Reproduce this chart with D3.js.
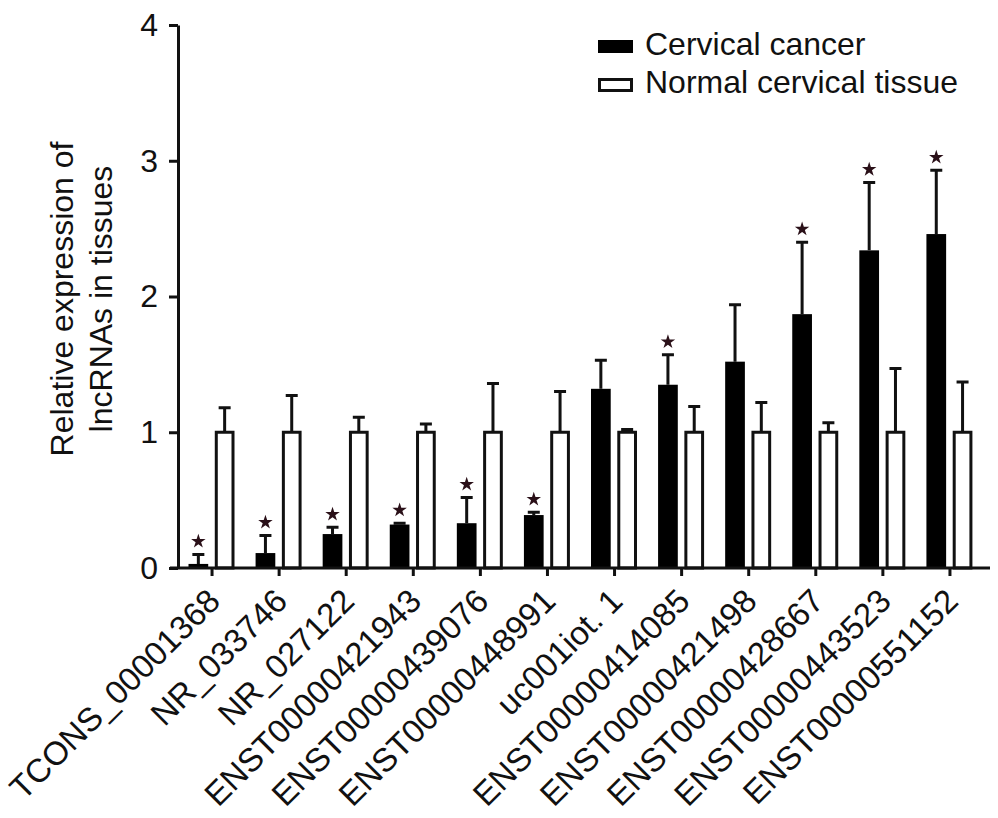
<!DOCTYPE html>
<html>
<head>
<meta charset="utf-8">
<script src="https://cdn.jsdelivr.net/npm/d3@7"></script>
<style>
  html, body { margin: 0; padding: 0; background: #fff; }
  svg text { font-family: "Liberation Sans", Arial, sans-serif; fill: #111; }
</style>
</head>
<body>
<div id="chart"></div>
<script>
// --- DATA ---
const categories = ["TCONS_00001368", "NR_033746", "NR_027122", "ENST00000421943",
    "ENST00000439076", "ENST00000448991", "uc001iot. 1", "ENST00000414085",
    "ENST00000421498", "ENST00000428667", "ENST00000443523", "ENST00000551152"];
const series = ["Cervical cancer", "Normal cervical tissue"];
const cancerMean = [0.03, 0.11, 0.25, 0.32, 0.33, 0.39, 1.32, 1.35, 1.52, 1.87, 2.34, 2.46];
const cancerSD   = [0.07, 0.13, 0.05, 0.01, 0.19, 0.02, 0.21, 0.22, 0.42, 0.53, 0.50, 0.47];
const normalMean = [1, 1, 1, 1, 1, 1, 1, 1, 1, 1, 1, 1];
const normalSD   = [0.18, 0.27, 0.11, 0.06, 0.36, 0.30, 0.02, 0.19, 0.22, 0.07, 0.47, 0.37];
const significant = [true, true, true, true, true, true, false, true, false, true, true, true];
const yTicks = [0, 1, 2, 3, 4];

// --- SETUP ---
const width = 998, height = 818;
const svg = d3.select("#chart").append("svg")
    .attr("width", width)
    .attr("height", height);

const x0 = d3.scaleBand()
    .domain(categories)
    .range([178.5, 983.5]);

const x1 = d3.scaleBand()
    .domain(["cancer", "normal"])
    .range([10, 56])
    .paddingInner(0.25);

const y = d3.scaleLinear()
    .domain([0, 4])
    .range([568, 25]);

// build rows from the arrays
const rows = categories.map((c, i) => ({
    name: c,
    sig: significant[i],
    bars: [
        { key: "cancer", mean: cancerMean[i], sd: cancerSD[i] },
        { key: "normal", mean: normalMean[i], sd: normalSD[i] }
    ]
}));

// --- BARS ---
const groups = svg.append("g").selectAll("g")
    .data(rows)
    .enter().append("g")
    .attr("transform", d => `translate(${x0(d.name)},0)`);

// error bars (upper half only)
groups.selectAll(".err")
    .data(d => d.bars)
    .enter().append("path")
    .attr("class", "err")
    .attr("fill", "none")
    .attr("stroke", "#111")
    .attr("stroke-width", 3)
    .attr("d", d => {
        const cx = x1(d.key) + x1.bandwidth() / 2;
        const top = y(d.mean + d.sd);
        return `M${cx},${y(d.mean)}V${top}M${cx - 6},${top}H${cx + 6}`;
    });

groups.selectAll(".bar")
    .data(d => d.bars)
    .enter().append("rect")
    .attr("class", "bar")
    .attr("x", d => d.key === "cancer" ? x1(d.key) : x1(d.key) + 1.5)
    .attr("width", d => d.key === "cancer" ? x1.bandwidth() : x1.bandwidth() - 3)
    .attr("y", d => y(d.mean))
    .attr("height", d => y(0) - y(d.mean))
    .attr("fill", d => d.key === "cancer" ? "#000" : "#fff")
    .attr("stroke", d => d.key === "cancer" ? "none" : "#111")
    .attr("stroke-width", 3);

// significance stars
groups.filter(d => d.sig).append("path")
    .attr("d", d3.symbol().type(d3.symbolStar).size(65))
    .attr("fill", "#2a1018")
    .attr("transform", d => {
        const b = d.bars[0];
        return `translate(${x1("cancer") + x1.bandwidth() / 2},${y(b.mean + b.sd) - 13})`;
    });

// --- AXES ---
const xAxis = svg.append("g")
    .attr("transform", `translate(0,${y(0)})`)
    .call(d3.axisBottom(x0).tickSize(8).tickSizeOuter(0).tickFormat(""));
xAxis.select(".domain").attr("d", "M170,0H990");
xAxis.selectAll("line, path").attr("stroke", "#111").attr("stroke-width", 3);

xAxis.selectAll(".tick").append("text")
    .attr("transform", "translate(10,35) rotate(-45)")
    .attr("text-anchor", "end")
    .attr("font-size", 33)
    .attr("fill", "#111")
    .text(d => d);

const yAxis = svg.append("g")
    .attr("transform", "translate(178,0)")
    .call(d3.axisLeft(y).tickValues(yTicks).tickFormat(d3.format("d"))
        .tickSize(9).tickSizeOuter(0).tickPadding(11));
yAxis.selectAll("line, path").attr("stroke", "#111").attr("stroke-width", 3);
yAxis.selectAll("text")
    .attr("font-size", 32)
    .attr("fill", "#111")
    .attr("font-family", "Liberation Sans, Arial, sans-serif");

// y title
const yTitle = svg.append("text")
    .attr("transform", "translate(73,299) rotate(-90)")
    .attr("text-anchor", "middle")
    .attr("font-size", 32);
yTitle.append("tspan").attr("x", 0).attr("y", 0).text("Relative expression of");
yTitle.append("tspan").attr("x", 0).attr("y", 39).text("lncRNAs in tissues");

// --- LEGEND ---
const legend = svg.append("g").attr("transform", "translate(598,0)");
series.forEach((s, i) => {
    const ly = 40 + i * 38;
    legend.append("rect")
        .attr("x", i === 0 ? 0 : 1.5)
        .attr("y", i === 0 ? ly : ly + 1.5)
        .attr("width", i === 0 ? 35 : 32)
        .attr("height", i === 0 ? 13 : 11)
        .attr("fill", i === 0 ? "#000" : "#fff")
        .attr("stroke", i === 0 ? "none" : "#111")
        .attr("stroke-width", 3);
    legend.append("text")
        .attr("x", 47)
        .attr("y", ly + 15)
        .attr("font-size", 32)
        .text(s);
});
</script>
</body>
</html>
